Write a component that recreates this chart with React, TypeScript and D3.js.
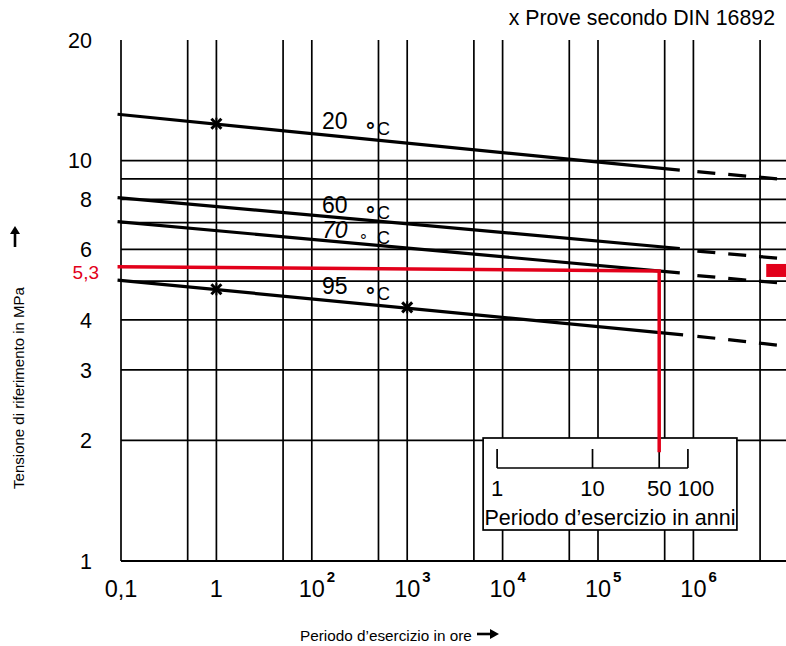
import React from 'react';
import * as d3 from 'd3';

const W = 786;
const H = 646;

// x: operating time in hours (log), y: reference stress in MPa (log)
const hourTicks = [1, 10, 100, 1e3, 1e4, 1e5, 1e6];
const hourTickBase = ['0,1', '1', '10', '10', '10', '10', '10'];
const hourTickExp = ['', '', '2', '3', '4', '5', '6'];
const hourGrid = [1, 5, 10, 50, 100, 500, 1e3, 5e3, 1e4, 5e4, 1e5, 5e5, 1e6, 5e6];

const stressTicks = [1, 2, 3, 4, 6, 8, 10, 20];
const stressGrid = [1, 2, 3, 4, 5, 6, 7, 8, 9, 10];

const temps = ['20', '60', '70', '95'];
const solidLines = [
  [[0.92, 13.05], [7.2e5, 9.46]],
  [[0.92, 8.08], [7.2e5, 6.03]],
  [[0.92, 7.04], [7.2e5, 5.24]],
  [[0.92, 5.03], [7.8e5, 3.67]],
];
const dashedLines = [
  [[1.1e6, 9.38], [9.4e6, 8.96]],
  [[1.1e6, 5.94], [9.4e6, 5.68]],
  [[1.1e6, 5.16], [9.4e6, 4.93]],
  [[1.1e6, 3.64], [9.4e6, 3.44]],
];
const tempLabelPos = [[128, 11.97], [128, 7.41], [128, 6.4], [128, 4.63]];

// x Prove secondo DIN 16892
const testPoints = [[10, 12.36], [10, 4.77], [1000, 4.3]];

const refStress = 5.3;
const redPath = [[0.92, 5.43], [438000, 5.3], [438000, 1.87]];
const redMarkerHours = 5.8e6;

const years = [1, 10, 50, 100];
const hoursPerYear = 8760;

const font = '"Liberation Sans", Arial, sans-serif';
const red = '#e2001a';

export default function App() {
  const x = d3.scaleLog().domain([1, 1e7]).range([121, 121 + 7 * 95.4]);
  const y = d3.scaleLog().domain([1, 20]).range([561, 40]);
  const line = d3.line<number[]>().x(d => x(d[0])).y(d => y(d[1]));

  const top = y(20);
  const bottom = y(1);
  const left = x(1);

  const yx = (v: number) => x(v * hoursPerYear);
  const boxL = yx(1) - 14;
  const boxR = yx(100) + 49;
  const boxT = 438;
  const boxB = 530;
  const scaleY = 468;

  return (
    <>
      <style>{`body{margin:0}`}</style>
      <svg width={W} height={H} style={{ display: 'block', background: '#fff' }} fontFamily={font}>
        {/* grid */}
        {hourGrid.map(v => (
          <line key={'vx' + v} x1={x(v)} x2={x(v)} y1={top} y2={bottom} stroke="#000" strokeWidth={1.7} />
        ))}
        {stressGrid.map(v => (
          <line key={'hy' + v} x1={left} x2={W} y1={y(v)} y2={y(v)} stroke="#000" strokeWidth={v === 1 ? 2 : 1.7} />
        ))}

        {/* curves */}
        {solidLines.map((pts, i) => (
          <path key={'s' + i} d={line(pts) || ''} fill="none" stroke="#000" strokeWidth={3.2} />
        ))}
        {dashedLines.map((pts, i) => (
          <path key={'d' + i} d={line(pts) || ''} fill="none" stroke="#000" strokeWidth={3.2} strokeDasharray="18 13" />
        ))}

        {/* test points */}
        {testPoints.map((p, i) => {
          const cx = x(p[0]);
          const cy = y(p[1]);
          const r = 5;
          return (
            <g key={'tp' + i} stroke="#000" strokeWidth={3}>
              <line x1={cx - r} y1={cy - r} x2={cx + r} y2={cy + r} />
              <line x1={cx - r} y1={cy + r} x2={cx + r} y2={cy - r} />
              <line x1={cx} y1={cy - 6} x2={cx} y2={cy + 6} strokeWidth={2} />
            </g>
          );
        })}

        {/* temperature labels */}
        {temps.map((t, i) => {
          const lx = x(tempLabelPos[i][0]);
          const ly = y(tempLabelPos[i][1]);
          const is70 = t === '70';
          return (
            <g key={'t' + t} fill="#000">
              <text x={lx} y={ly} fontSize={23} fontStyle={is70 ? 'italic' : 'normal'}>{t}</text>
              <text x={lx + (is70 ? 38 : 44)} y={ly + (is70 ? 8 : 9)} fontSize={is70 ? 17 : 22} fontWeight={is70 ? 'normal' : 'bold'}>°</text>
              <text x={lx + 55} y={ly + 6} fontSize={18}>C</text>
            </g>
          );
        })}

        {/* inset: operating period in years */}
        <rect x={boxL} y={boxT} width={boxR - boxL} height={boxB - boxT} fill="#fff" stroke="#000" strokeWidth={1.7} />
        <line x1={yx(1)} x2={yx(100)} y1={scaleY} y2={scaleY} stroke="#000" strokeWidth={1.7} />
        {years.map(v => (
          <line key={'yt' + v} x1={yx(v)} x2={yx(v)} y1={scaleY} y2={scaleY - 19} stroke="#000" strokeWidth={1.7} />
        ))}
        {years.map(v => (
          <text key={'yl' + v} x={yx(v) + (v === 100 ? 8 : 0)} y={496} fontSize={22} textAnchor="middle">{v}</text>
        ))}
        <text x={(boxL + boxR) / 2} y={525} fontSize={21.5} textAnchor="middle">Periodo d’esercizio in anni</text>

        {/* reference stress 5,3 MPa at 50 years */}
        <path d={line(redPath) || ''} fill="none" stroke={red} strokeWidth={3.5} />
        <rect x={x(redMarkerHours)} y={y(refStress) - 7} width={W - x(redMarkerHours)} height={13} fill={red} />

        {/* y tick labels */}
        {stressTicks.map(v => (
          <text key={'yl' + v} x={92} y={y(v)} dy="0.36em" fontSize={21.5} textAnchor="end">{v}</text>
        ))}
        <text x={99} y={y(refStress) + 1.5} dy="0.36em" fontSize={19} textAnchor="end" fill={red}>5,3</text>

        {/* x tick labels */}
        {hourTicks.map((v, i) => (
          <g key={'xl' + v}>
            <text x={x(v)} y={597} fontSize={23.5} textAnchor="middle">{hourTickBase[i]}</text>
            {hourTickExp[i] && (
              <text x={x(v) + 15} y={582} fontSize={15} fontWeight="bold">{hourTickExp[i]}</text>
            )}
          </g>
        ))}

        {/* titles */}
        <text x={775} y={25} fontSize={21.3} textAnchor="end">x Prove secondo DIN 16892</text>
        <text transform="translate(24,388) rotate(-90)" fontSize={15} textAnchor="middle">Tensione di riferimento in MPa</text>
        <path d="M15,247V233" stroke="#000" strokeWidth={2.6} />
        <path d="M10,234L15,226L20,234Z" fill="#000" />
        <text x={300} y={641} fontSize={15.3}>Periodo d’esercizio in ore</text>
        <path d="M477,634H491" stroke="#000" strokeWidth={2.6} />
        <path d="M490,629L499,634L490,639Z" fill="#000" />
      </svg>
    </>
  );
}
